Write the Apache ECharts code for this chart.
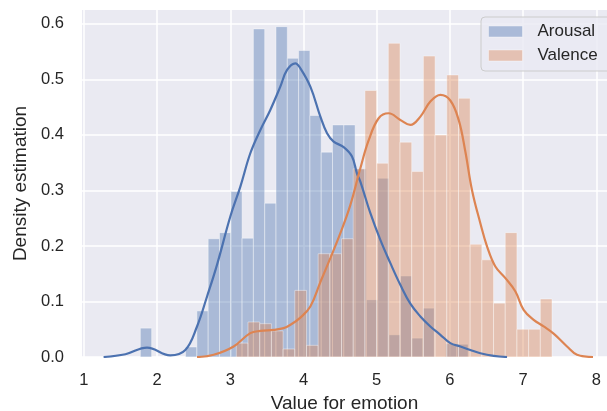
<!DOCTYPE html>
<html>
<head>
<meta charset="utf-8">
<script src="https://cdn.jsdelivr.net/npm/echarts@6/dist/echarts.min.js"></script>
<style>
  html, body { margin: 0; padding: 0; background: #ffffff; }
  #chart { width: 607px; height: 411px; }
</style>
</head>
<body>
<div id="chart"></div>
<script>
// Tick positions on both axes
const xTicks = [1, 2, 3, 4, 5, 6, 7, 8];
const yTicks = [0, 0.1, 0.2, 0.3, 0.4, 0.5, 0.6];

// Arousal histogram (density per bin, equal-width bins)
const arousalBinStart = 1.772;
const arousalBinWidth = 0.1544;
const arousalDensity = [
  0.052, 0, 0, 0, 0.018, 0.083, 0.213, 0.224, 0.298, 0.214,
  0.591, 0.277, 0.595, 0.538, 0.552, 0.435, 0.369, 0.418, 0.418, 0.339,
  0.103, 0.322, 0.040, 0.146, 0.034, 0.088, 0, 0.024, 0.023
];

// Valence histogram
const valenceBinStart = 3.083;
const valenceBinWidth = 0.1597;
const valenceDensity = [
  0.025, 0.063, 0.060, 0.047, 0.0144, 0.120, 0.021, 0.186, 0.186, 0.213,
  0.339, 0.480, 0.349, 0.565, 0.387, 0.334, 0.542, 0.400, 0.508, 0.466,
  0.203, 0.175, 0.097, 0.224, 0.050, 0.050, 0.1045
];

// Kernel density estimates
const arousalKdeX = [1.27, 1.568, 1.863, 2.18, 2.386, 2.546, 2.683, 2.819, 3.001, 3.138,
  3.274, 3.411, 3.547, 3.684, 3.776, 3.889, 3.958, 4.094, 4.231, 4.322,
  4.412, 4.549, 4.663, 4.732, 4.777, 4.914, 5.05, 5.187, 5.323, 5.46,
  5.597, 5.733, 5.87, 6.006, 6.143, 6.279, 6.416, 6.598, 6.781];
const arousalKdeY = [0, 0.005, 0.017, 0.003, 0.0126, 0.055, 0.109, 0.166, 0.253, 0.307,
  0.367, 0.409, 0.445, 0.487, 0.517, 0.529, 0.52, 0.487, 0.433, 0.403,
  0.388, 0.378, 0.361, 0.33, 0.316, 0.259, 0.211, 0.169, 0.13, 0.096,
  0.073, 0.055, 0.04, 0.025, 0.019, 0.0126, 0.0067, 0.002, 0];

const valenceKdeX = [2.546, 2.773, 3.046, 3.274, 3.411, 3.593, 3.729, 3.821, 3.958, 4.094,
  4.231, 4.367, 4.504, 4.641, 4.777, 4.89, 5.027, 5.163, 5.323, 5.46,
  5.597, 5.733, 5.87, 6.006, 6.12, 6.211, 6.303, 6.416, 6.508, 6.621,
  6.758, 6.895, 7.007, 7.144, 7.281, 7.417, 7.6, 7.737, 7.955];
const valenceKdeY = [0, 0.004, 0.019, 0.043, 0.047, 0.049, 0.052, 0.058, 0.071, 0.091,
  0.135, 0.178, 0.223, 0.274, 0.34, 0.39, 0.43, 0.439, 0.427, 0.418,
  0.433, 0.46, 0.472, 0.462, 0.427, 0.37, 0.3, 0.241, 0.199, 0.163,
  0.142, 0.118, 0.085, 0.067, 0.055, 0.042, 0.019, 0.004, 0];

const BLUE = '#4C72B0';
const ORANGE = '#DD8452';
const TEXT = '#262626';
const FONT = '"Liberation Sans", Arial, sans-serif';

function binRows(start, width, dens) {
  return dens.map((d, i) => [start + i * width, start + (i + 1) * width, d]);
}
function zipXY(xs, ys) { return xs.map((x, i) => [x, ys[i]]); }

function histSeries(name, rows, color) {
  return {
    name: name,
    type: 'custom',
    z: 2,
    itemStyle: { color: color },
    encode: { x: [0, 1], y: 2 },
    data: rows,
    renderItem: function (params, api) {
      const p0 = api.coord([api.value(0), api.value(2)]);
      const p1 = api.coord([api.value(1), 0]);
      return {
        type: 'rect',
        shape: { x: p0[0], y: p0[1], width: p1[0] - p0[0], height: p1[1] - p0[1] },
        style: { fill: color, stroke: '#ffffff', lineWidth: 1, opacity: 0.4 }
      };
    }
  };
}

function kdeSeries(name, pts, color) {
  return {
    name: name,
    type: 'line',
    z: 3,
    data: pts,
    smooth: 0.4,
    showSymbol: false,
    symbol: 'none',
    lineStyle: { color: color, width: 2.2 },
    itemStyle: { color: color }
  };
}

const chart = echarts.init(document.getElementById('chart'), null, { renderer: 'canvas' });
chart.setOption({
  animation: false,
  textStyle: { fontFamily: FONT },
  grid: {
    left: 82, right: 0, top: 10, bottom: 54,
    containLabel: false,
    outerBoundsMode: 'none',
    show: true, backgroundColor: '#EAEAF2', borderWidth: 0
  },
  xAxis: {
    type: 'value',
    min: 0.975, max: 8.146,
    name: 'Value for emotion',
    nameLocation: 'middle',
    nameGap: 31,
    nameTextStyle: { fontSize: 19, color: TEXT, fontFamily: FONT },
    axisLine: { show: false },
    axisTick: { show: false, customValues: xTicks },
    axisLabel: { customValues: xTicks, fontSize: 16.5, color: TEXT, margin: 15, fontFamily: FONT },
    splitLine: { show: true, lineStyle: { color: '#ffffff', width: 1.5 } }
  },
  yAxis: {
    type: 'value',
    min: 0, max: 0.625,
    name: 'Density estimation',
    nameLocation: 'middle',
    nameGap: 46,
    nameTextStyle: { fontSize: 19, color: TEXT, fontFamily: FONT },
    axisLine: { show: false },
    axisTick: { show: false, customValues: yTicks },
    axisLabel: {
      customValues: yTicks, fontSize: 16.5, color: TEXT, margin: 18, fontFamily: FONT,
      formatter: v => v.toFixed(1)
    },
    splitLine: { show: true, lineStyle: { color: '#ffffff', width: 1.5 } }
  },
  legend: {
    orient: 'vertical',
    left: 481, top: 17,
    padding: [6, 40, 7, 7],
    itemWidth: 34, itemHeight: 11, itemGap: 7,
    backgroundColor: 'rgba(234,234,242,0.8)',
    borderColor: '#cccccc', borderWidth: 1, borderRadius: 4,
    textStyle: { fontSize: 17, color: TEXT, lineHeight: 17, padding: [0, 0, 0, 10], fontFamily: FONT },
    data: [
      { name: 'Arousal', icon: 'rect', itemStyle: { color: 'rgba(76,114,176,0.4)', borderColor: 'rgba(255,255,255,0.4)', borderWidth: 1 } },
      { name: 'Valence', icon: 'rect', itemStyle: { color: 'rgba(221,132,82,0.4)', borderColor: 'rgba(255,255,255,0.4)', borderWidth: 1 } }
    ]
  },
  series: [
    histSeries('Arousal', binRows(arousalBinStart, arousalBinWidth, arousalDensity), BLUE),
    histSeries('Valence', binRows(valenceBinStart, valenceBinWidth, valenceDensity), ORANGE),
    kdeSeries('Arousal KDE', zipXY(arousalKdeX, arousalKdeY), BLUE),
    kdeSeries('Valence KDE', zipXY(valenceKdeX, valenceKdeY), ORANGE)
  ]
});
</script>
</body>
</html>
